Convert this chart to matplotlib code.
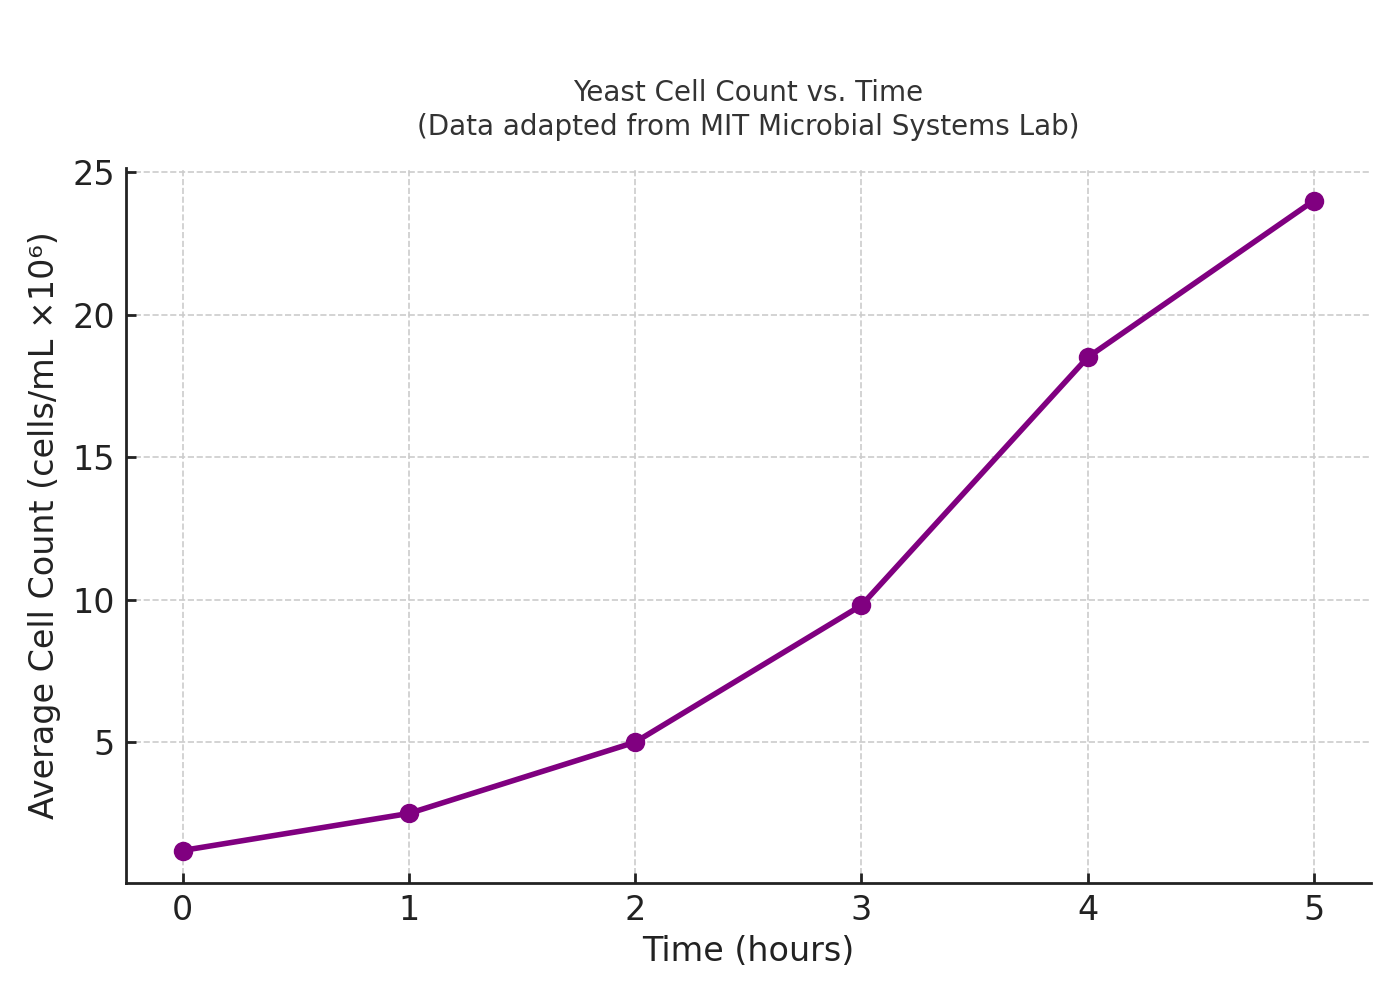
import matplotlib
matplotlib.use("Agg")
import matplotlib.pyplot as plt

# Yeast growth data
hours = [0, 1, 2, 3, 4, 5]
cell_count = [1.2, 2.5, 5.0, 9.8, 18.5, 24.0]
yticks = [5, 10, 15, 20, 25]

fig = plt.figure(figsize=(7, 5), dpi=200)
ax = fig.add_axes([0.09, 0.117, 0.889, 0.715])

ax.plot(hours, cell_count, marker='o', color='purple', linewidth=2.0,
        markersize=6, zorder=3)

ax.set_xticks(hours)
ax.set_yticks(yticks)
ax.grid(True, linestyle='--', color='#cccccc', linewidth=0.6)
ax.set_axisbelow(True)

for side in ['top', 'right']:
    ax.spines[side].set_visible(False)
for side in ['left', 'bottom']:
    ax.spines[side].set_color('#222222')
    ax.spines[side].set_linewidth(1.0)

ax.tick_params(direction='in', length=3.5, width=1.0, colors='#222222',
               labelsize=12, pad=4)

ax.set_title("Yeast Cell Count vs. Time\n(Data adapted from MIT Microbial Systems Lab)",
             fontsize=10, color='#333333', pad=12, linespacing=1.25)
ax.set_xlabel("Time (hours)", fontsize=12, color='#222222', labelpad=3)
ax.set_ylabel("Average Cell Count (cells/mL \u00d710\u2076)", fontsize=12,
              color='#222222', labelpad=4)

fig.savefig("out.png", dpi=200)
